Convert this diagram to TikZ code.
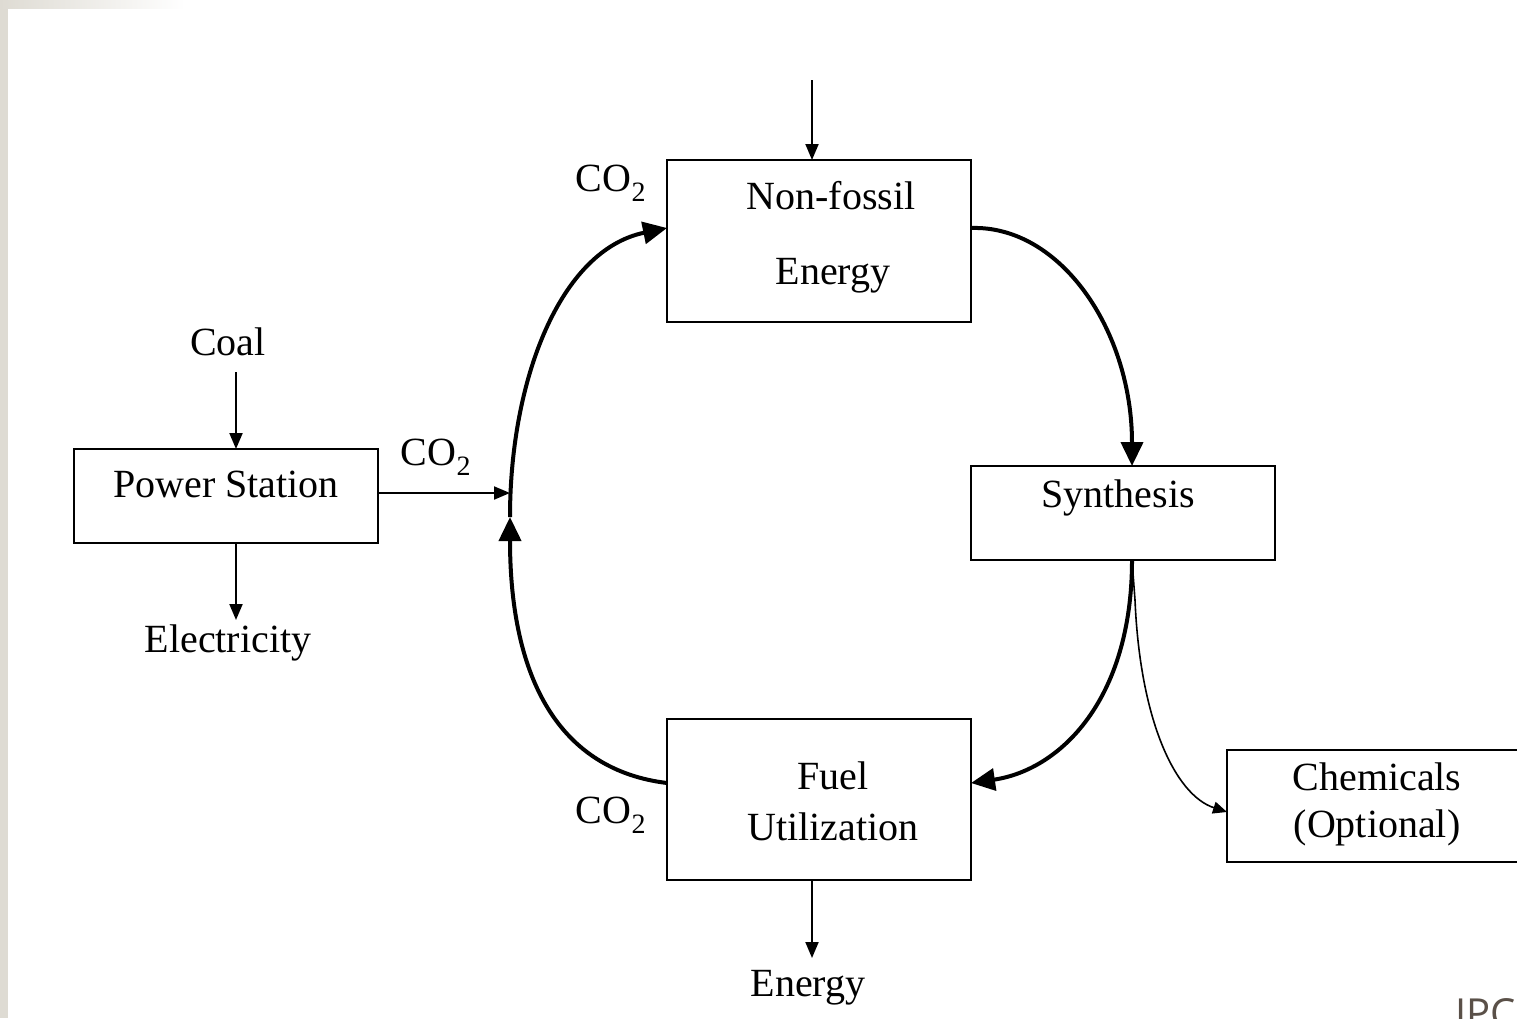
\documentclass[tikz,border=0pt]{standalone}
\usepackage{fontspec}
\setmainfont{Liberation Serif}
\newfontfamily\ipcfont{Open Sans}
\usetikzlibrary{arrows.meta}
\definecolor{framegrey}{HTML}{DEDBD3}
\definecolor{ipcgrey}{HTML}{5A5048}
\begin{document}
\begin{tikzpicture}[x=1pt,y=-1pt,
  box/.style={draw,line width=2pt},
  lbl/.style={font=\fontsize{40}{46}\selectfont,inner sep=0pt},
  thin/.style={line width=2pt,-{Triangle[length=16pt,width=13pt]}},
  thick/.style={line width=4pt,-{Triangle[length=24pt,width=22pt]}},
  chem/.style={line width=1.6pt,-{Triangle[length=14pt,width=12pt]}}]
\useasboundingbox (0,0) rectangle (1517,1018);
% frame
\fill[framegrey] (0,0) rectangle (8,1018);
\shade[left color=framegrey,right color=white] (0,0) rectangle (185,8);
% boxes
\draw[box] (667,160) rectangle (971,322);
\draw[box] (74,449) rectangle (378,543);
\draw[box] (971,466) rectangle (1275,560);
\draw[box] (667,719) rectangle (971,880);
\draw[box] (1540,750) -- (1227,750) -- (1227,862) -- (1540,862);
% named anchors
\coordinate (nfTop) at (812,160);
\coordinate (nfLeft) at (667,228);
\coordinate (nfRight) at (971,228);
\coordinate (psTop) at (236,449);
\coordinate (psBot) at (236,543);
\coordinate (psRight) at (378,493);
\coordinate (synTop) at (1132,466);
\coordinate (synBot) at (1132,560);
\coordinate (fuLeft) at (667,783);
\coordinate (fuRight) at (971,783);
\coordinate (fuBot) at (812,880);
\coordinate (chLeft) at (1227,812);
\coordinate (join) at (510,493);
\coordinate (joinLow) at (510,517);
\coordinate (topIn) at (812,80);
\coordinate (branch) at (1135,600);
% texts
\node[lbl] (t1) at (831,196) {Non-fossil};
\node[lbl] (t2) at (833,276) {Energy};
\node[lbl] (ps) at (226,484) {Power Station};
\node[lbl] (syn) at (1118,498) {Synthesis};
\node[lbl] (t3) at (833,776) {Fuel};
\node[lbl] (t4) at (833,827) {Utilization};
\node[lbl] (t5) at (1377,777) {Chemicals};
\node[lbl] (t6) at (1377,828) {(Optional)};
\node[lbl] (coal) at (228,342) {Coal};
\node[lbl] (elec) at (228,643) {Electricity};
\node[lbl] (en) at (808,988) {Energy};
\node[lbl] (co2a) at (611,183) {CO\textsubscript{2}};
\node[lbl] (co2b) at (436,457) {CO\textsubscript{2}};
\node[lbl] (co2c) at (611,815) {CO\textsubscript{2}};
\node[anchor=north west,inner sep=0pt,text=ipcgrey,font=\ipcfont\fontsize{40}{44}\selectfont] (ipc) at (1455,998) {IPC};
% straight arrows
\draw[thin] (topIn) -- (nfTop);
\draw[thin] (236,372) -- (psTop);
\draw[thin] (psBot) -- (236,620);
\draw[thin] (psRight) -- (join);
\draw[thin] (fuBot) -- (812,958);
% cycle
\draw[thick] (fuLeft) .. controls (560,770) and (510,680) .. (joinLow);
\draw[thick] (joinLow) .. controls (510,380) and (560,250) .. (nfLeft);
\draw[thick] (nfRight) .. controls (1060,225) and (1132,330) .. (synTop);
\draw[thick] (synBot) .. controls (1132,700) and (1060,770) .. (fuRight);
% chemicals branch
\draw[line width=1.6pt] (synBot) -- (branch);
\draw[chem] (branch) .. controls (1140,720) and (1175,795) .. (chLeft);
\end{tikzpicture}
\end{document}
